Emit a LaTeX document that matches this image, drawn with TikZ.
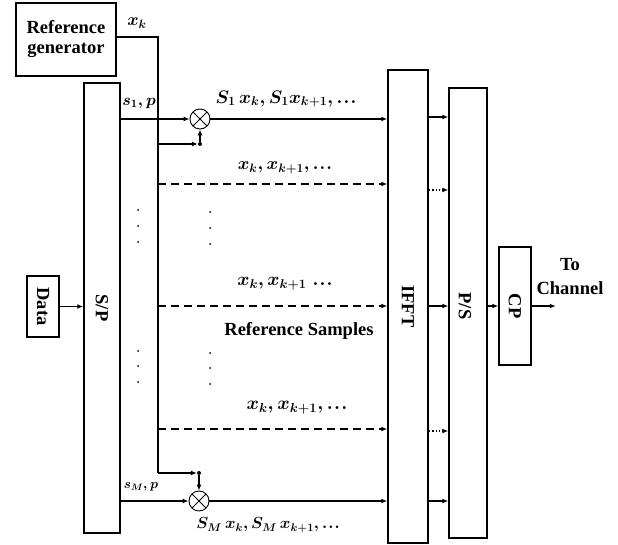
\documentclass[tikz,border=0pt]{standalone}
\usepackage{fontspec}
\setmainfont{Liberation Serif}
\usepackage{amsmath,bm}
\usetikzlibrary{arrows.meta}
\newcommand{\tdots}{\mathord{.\mkern1mu.\mkern1mu.}}
\begin{document}
\begin{tikzpicture}[x=1pt,y=-1pt,
  every node/.style={font=\bfseries},
  blk/.style={draw,line width=1.5pt,rectangle,inner sep=0pt},
  ln/.style={line width=1.4pt},
  arr/.style={ln,-{Latex[length=6pt,width=5pt]}},
  mult/.style={draw,line width=0.9pt,circle,minimum size=20pt,inner sep=0pt,
    path picture={\draw[line width=0.9pt] (path picture bounding box.north west) -- (path picture bounding box.south east)
      (path picture bounding box.north east) -- (path picture bounding box.south west);}},
  dotn/.style={circle,fill,inner sep=0pt,minimum size=4pt},
  lbl/.style={font=\fontsize{18.5}{20}\selectfont\bfseries},
  mth/.style={font=\fontsize{17}{17}\selectfont\boldmath,scale=#1},
  mths/.style={font=\fontsize{14}{14}\selectfont\boldmath,scale=#1}
]
\useasboundingbox (0,0) rectangle (618,545);
% blocks
\node[blk,lbl,minimum width=100pt,minimum height=73pt,align=center] (refgen) at (66,39.5) {Reference\\generator};
\node[blk,minimum width=36pt,minimum height=450pt] (sp) at (102,308) {};
\node[lbl,rotate=-90] at (sp) {S/P};
\node[blk,minimum width=32pt,minimum height=61pt] (data) at (43,306.5) {};
\node[lbl,rotate=-90] at (data) {Data};
\node[blk,minimum width=40pt,minimum height=473pt] (ifft) at (408,306.5) {};
\node[lbl,rotate=-90] at (ifft) {IFFT};
\node[blk,minimum width=38pt,minimum height=450pt] (ps) at (468,313) {};
\node[lbl,rotate=-90] at (465,306) {P/S};
\node[blk,minimum width=32pt,minimum height=118pt] (cp) at (515,306) {};
\node[lbl,rotate=-90] at (cp) {CP};
\node[lbl,align=center,font=\fontsize{18.5}{24}\selectfont\bfseries] (tochan) at (570,277) {To\\Channel};
% multipliers
\node[mult] (m1) at (200,119) {};
\node[mult] (m2) at (199,501) {};
\node[dotn] (d1) at (200,144) {};
\node[dotn] (d2) at (199,473) {};
\coordinate (vtop) at (158,37);
\coordinate (vbot) at (158,473);
\coordinate (v1) at (158,144);
% reference line
\draw[ln] (vtop -| refgen.east) -- (vtop) -- (vbot);
\draw[arr] (vbot) -- (d2);
\draw[arr] (d2) -- (m2);
\draw[arr] (v1) -- (d1);
\draw[arr] (d1) -- (m1);
\node[mth=1] at (137,23) {$x_k$};
% data
\draw[arr] (data.east) -- (data.east -| sp.west);
% S/P to multipliers
\draw[arr] (m1 -| sp.east) -- (m1);
\draw[arr] (m2 -| sp.east) -- (m2);
\node[mths=1.12] at (139,103) {$s_1,p$};
\node[mths=0.93] at (141,487) {$s_M,p$};
\draw[arr] (m1) -- (m1 -| ifft.west);
\draw[arr] (m2) -- (m2 -| ifft.west);
\node[mth=1.05] at (286,99) {$S_1\,x_k, S_1x_{k+1},\tdots$};
\node[mth=0.93] at (268,525) {$S_M\,x_k, S_M\,x_{k+1},\tdots$};
% dashed lines
\coordinate (a1) at (158,184);
\coordinate (a2) at (158,306);
\coordinate (a3) at (158,429);
\draw[arr,dash pattern=on 8pt off 5pt] (a1) -- (a1 -| ifft.west);
\draw[arr,dash pattern=on 8pt off 5pt] (a2) -- (a2 -| ifft.west);
\draw[arr,dash pattern=on 8pt off 5pt] (a3) -- (a3 -| ifft.west);
\node[mth=1.02] at (285,168) {$x_k, x_{k+1},\tdots$};
\node[mth=1.07] at (285,284) {$x_k, x_{k+1}\;\tdots$};
\node[mth=1.09] at (297,408) {$x_k, x_{k+1},\tdots$};
\node[lbl] at (299,331) {Reference Samples};
% vertical dots
\foreach \yy in {210,226,242,351,366,382} {
  \fill (138,\yy) circle (1pt);
  \fill (210,\yy+2) circle (1pt);
}
% IFFT to P/S
\foreach \yy in {117,306,501} {
  \draw[arr] (ifft.east |- 0,\yy) -- (ps.west |- 0,\yy);
}
\foreach \yy in {190,431} {
  \draw[arr,dotted] (ifft.east |- 0,\yy) -- (ps.west |- 0,\yy);
}
\draw[arr] (ps.east |- cp.west) -- (cp.west);
\draw[arr] (cp.east) -- ++(24,0) coordinate (out);
\end{tikzpicture}
\end{document}
